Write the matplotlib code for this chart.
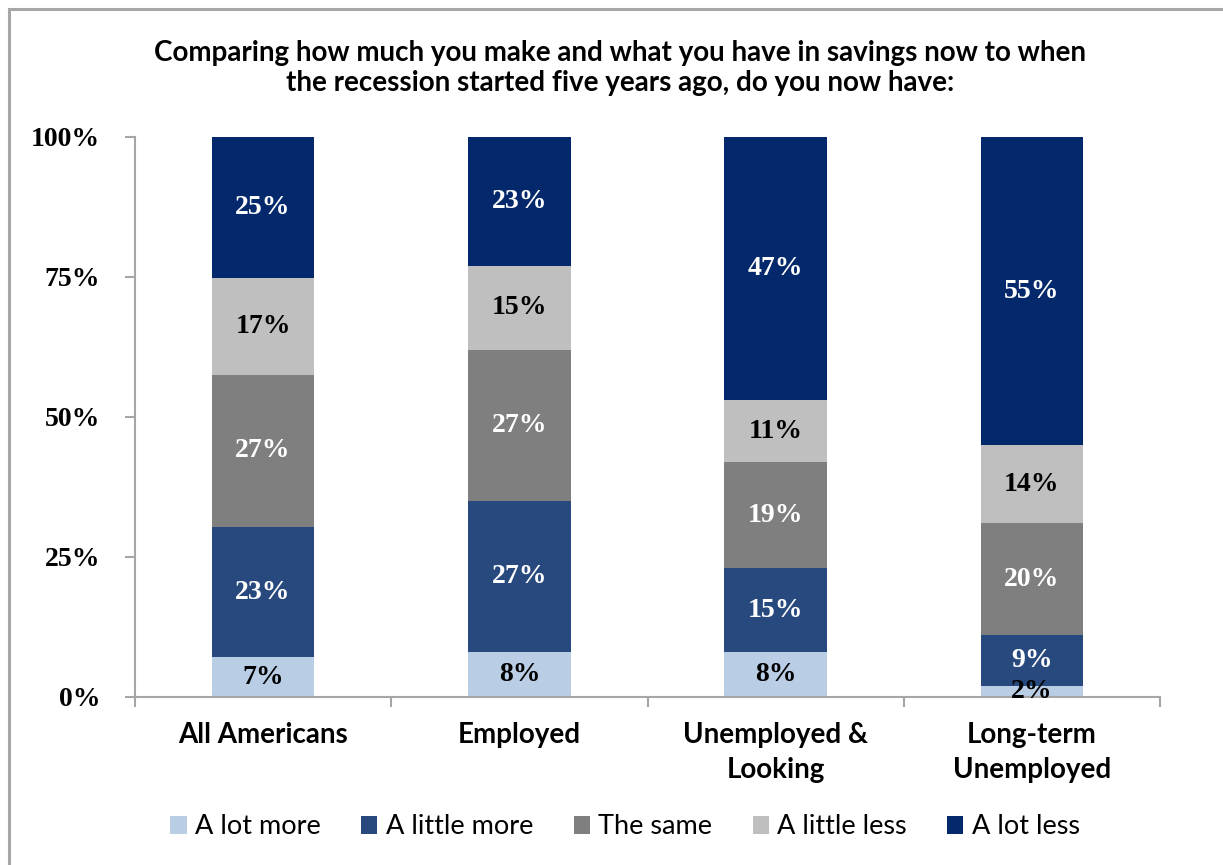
import matplotlib
matplotlib.use("Agg")
import matplotlib.pyplot as plt
from matplotlib.patches import Rectangle
from matplotlib import font_manager
import numpy as np

categories = ["All Americans", "Employed", "Unemployed &\nLooking", "Long-term\nUnemployed"]
series = ["A lot more", "A little more", "The same", "A little less", "A lot less"]
values = {
    "A lot more":    [7, 8, 8, 2],
    "A little more": [23, 27, 15, 9],
    "The same":      [27, 27, 19, 20],
    "A little less": [17, 15, 11, 14],
    "A lot less":    [25, 23, 47, 55],
}
colors = ["#B9CDE5", "#28497E", "#7F7F7F", "#BFBFBF", "#03286B"]
label_colors = ["black", "white", "white", "black", "white"]
yticks = [0, 25, 50, 75, 100]

title = ("Comparing how much you make and what you have in savings now to when\n"
         "the recession started five years ago, do you now have:")

available = {f.name for f in font_manager.fontManager.ttflist}
sans = "Lato" if "Lato" in available else "DejaVu Sans"
serif = "Liberation Serif"
narrow = "Liberation Sans Narrow" if "Liberation Sans Narrow" in available else sans

fig = plt.figure(figsize=(12.23, 8.65), dpi=100)
# light grey frame, only the left and top edges fall inside the canvas
fig.patches.append(Rectangle((9 / 1223, -0.1), 1.2, 1.1 - 9 / 865,
                             transform=fig.transFigure, fill=False,
                             edgecolor="#A6A6A6", linewidth=2.2))
ax = fig.add_axes([135 / 1223, 1 - 697 / 865, 1025 / 1223, 560 / 865])

data = np.array([values[s] for s in series], dtype=float)
shares = data / data.sum(axis=0) * 100
x = np.arange(len(categories)) + 0.5
bottom = np.zeros(len(categories))
handles = []
for i, s in enumerate(series):
    bars = ax.bar(x, shares[i], 0.4, bottom=bottom, color=colors[i], label=s)
    handles.append(bars)
    for j in range(len(categories)):
        ax.text(x[j], bottom[j] + shares[i][j] / 2, f"{int(data[i][j])}%",
                ha="center", va="center", color=label_colors[i],
                fontsize=20, fontweight="bold", family=serif)
    bottom += shares[i]

ax.set_xlim(0, 4)
ax.set_ylim(0, 100)
ax.set_yticks(yticks)
ax.set_yticklabels([f"{t}%" for t in yticks], family=serif, fontsize=20, fontweight="bold")
ax.set_xticks([0, 1, 2, 3, 4])
ax.set_xticklabels([])
ax.tick_params(axis="y", length=7, width=1.5, color="#A6A6A6", pad=18)
ax.tick_params(axis="x", length=7, width=1.5, color="#A6A6A6")
for j, c in enumerate(categories):
    ax.text(x[j], -4.5, c, ha="center", va="top", fontsize=20, fontweight="bold",
            family=sans, linespacing=1.4)
for side in ["top", "right"]:
    ax.spines[side].set_visible(False)
for side in ["left", "bottom"]:
    ax.spines[side].set_color("#A6A6A6")
    ax.spines[side].set_linewidth(1.5)

fig.text(620 / 1223, 1 - 68 / 865, title, ha="center", va="center", fontsize=20,
         fontweight="bold", family=sans, linespacing=1.2)

fig.legend(handles=handles, labels=series, loc="center", bbox_to_anchor=(625 / 1223, 1 - 827 / 865),
           ncol=5, frameon=False, handlelength=0.6, handleheight=0.6, handletextpad=0.3,
           columnspacing=1.5, prop={"family": narrow, "size": 19.5})

fig.savefig("out.png", dpi=100, facecolor="white")
